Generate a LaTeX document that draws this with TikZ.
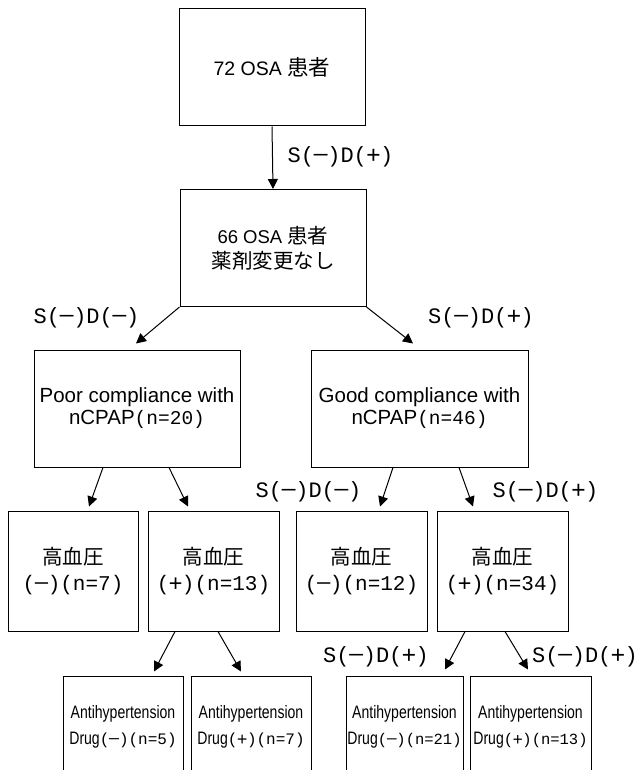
\documentclass[tikz,border=0pt]{standalone}
\usepackage{fontspec}
\setmainfont{Liberation Sans}
\newfontfamily\jp{Noto Sans CJK JP}
\newfontfamily\mono{Liberation Mono}
\newfontfamily\narrow[FakeStretch=0.78]{Liberation Sans}
\usetikzlibrary{arrows.meta}
\newcommand{\fs}[2]{\fontsize{#1}{#2}\selectfont}
\newcommand{\mn}{\makebox[0.6em]{\scalebox{1.3}[1]{−}}}
\newcommand{\pl}{\makebox[0.6em]{\raisebox{-0.04em}{\scalebox{1.12}{+}}}}
\begin{document}
\begin{tikzpicture}[x=1pt,y=-1pt,
  box/.style={draw, line width=1pt, inner sep=0pt, align=center, anchor=center},
  top/.style={box, minimum width=186pt, minimum height=117pt, font=\fs{19.5}{25}},
  comp/.style={box, minimum height=117pt, font=\fs{20.5}{22}},
  hyp/.style={box, minimum width=131pt, minimum height=120pt, font=\fs{20.5}{26}},
  drug/.style={box, minimum height=102pt, font=\narrow\fs{18}{26}},
  arr/.style={line width=1pt, -{Triangle[length=10pt,width=10pt]}},
  lab/.style={font=\mono\fs{22}{22}, inner sep=0pt}]
\clip (0,0) rectangle (642,770);
\fill[white] (0,0) rectangle (642,770);

% boxes
\node[top] (n72) at (272,67.5) {72 OSA {\jp\fs{21.5}{25}患者}};
\node[top] (n66) at (273,248) {{\fs{18.5}{25}66 OSA }{\jp\fs{20.5}{25}患者}\\{\jp\fs{20.5}{25}薬剤変更なし}};

\node[comp, minimum width=206pt] (poor) at (137,408.5) {Poor compliance with\\nCPAP{\mono\fs{19.5}{22}(n=20)}};
\node[comp, minimum width=217pt] (good) at (419.5,408.5) {Good compliance with\\nCPAP{\mono\fs{19.5}{22}(n=46)}};

\node[hyp, minimum width=130pt] (hA) at (73,571) {{\jp 高血圧}\\{\mono\fs{21}{26}(\mn)(n=7)}};
\node[hyp] (hB) at (213.5,571) {{\jp 高血圧}\\{\mono\fs{21}{26}(\pl)(n=13)}};
\node[hyp] (hC) at (361.5,571) {{\jp 高血圧}\\{\mono\fs{21}{26}(\mn)(n=12)}};
\node[hyp] (hD) at (502.5,571) {{\jp 高血圧}\\{\mono\fs{21}{26}(\pl)(n=34)}};

\node[drug, minimum width=120pt] (dE) at (123,727) {Antihypertension\\Drug{\mono\fs{16}{26}(\mn)(n=5)}};
\node[drug, minimum width=120pt] (dF) at (251,727) {Antihypertension\\Drug{\mono\fs{16}{26}(\pl)(n=7)}};
\node[drug, minimum width=117pt] (dG) at (404.5,727) {Antihypertension\\Drug{\mono\fs{15.5}{26}(\mn)(n=21)}};
\node[drug, minimum width=121pt] (dH) at (530.5,727) {Antihypertension\\Drug{\mono\fs{15.5}{26}(\pl)(n=13)}};

% labels
\node[lab] (l1) at (340.5,157) {S(\mn)D(\pl)};
\node[lab] (l2) at (86.5,318) {S(\mn)D(\mn)};
\node[lab] (l3) at (481,318) {S(\mn)D(\pl)};
\node[lab] (l4) at (308.5,492) {S(\mn)D(\mn)};
\node[lab] (l5) at (545.5,492) {S(\mn)D(\pl)};
\node[lab] (l6) at (376,657) {S(\mn)D(\pl)};
\node[lab] (l7) at (585,657) {S(\mn)D(\pl)};

% connectors
\draw[arr] (n72.south) -- (n66.north);
\draw[arr] (n66.south west) -- ([xshift=-1pt,yshift=6pt]poor.north);
\draw[arr] (n66.south east) -- ([xshift=-6.5pt,yshift=6pt]good.north);
\draw[arr] ([xshift=-34pt]poor.south) -- ([xshift=16pt,yshift=4pt]hA.north);
\draw[arr] ([xshift=32pt]poor.south) -- ([xshift=-25.5pt,yshift=4pt]hB.north);
\draw[arr] ([xshift=-26.5pt]good.south) -- ([xshift=18.5pt,yshift=4pt]hC.north);
\draw[arr] ([xshift=39.5pt]good.south) -- ([xshift=-29.5pt,yshift=4pt]hD.north);
\draw[arr] ([xshift=-38.5pt]hB.south) -- ([xshift=31pt,yshift=4pt]dE.north);
\draw[arr] ([xshift=4.5pt]hB.south) -- ([xshift=-10pt,yshift=4pt]dF.north);
\draw[arr] ([xshift=-37.5pt]hD.south) -- ([xshift=40.5pt,yshift=6pt]dG.north);
\draw[arr] ([xshift=2.5pt]hD.south) -- ([xshift=-2.5pt,yshift=6pt]dH.north);
\end{tikzpicture}
\end{document}
